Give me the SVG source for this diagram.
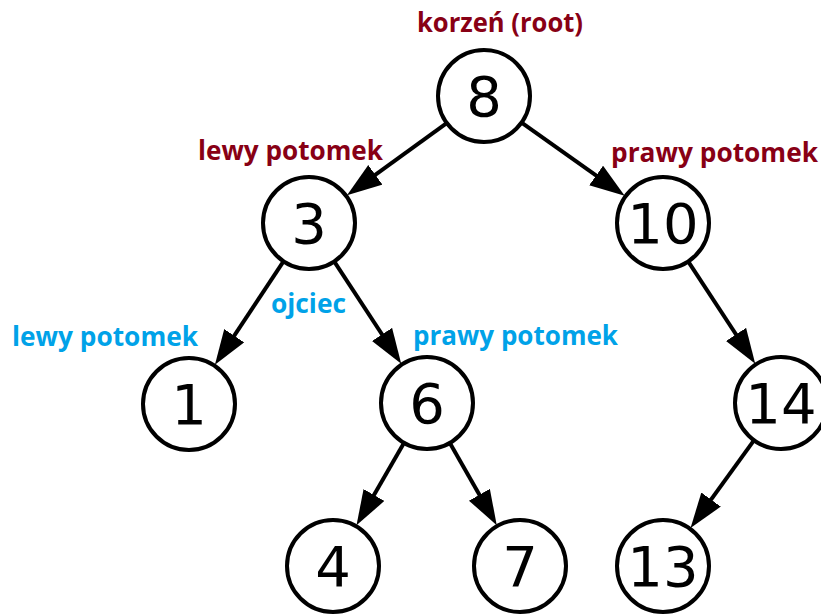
<svg xmlns="http://www.w3.org/2000/svg" width="821" height="614" viewBox="0 0 821 614">
<style>
.node circle{fill:#fff;stroke:#000;stroke-width:4}
.node text{font-family:"DejaVu Sans",sans-serif;font-size:56px;fill:#000;text-anchor:middle}
.edges path{fill:none;stroke:#000;stroke-width:4;marker-end:url(#arr)}
.lbl{font-family:"Open Sans","Liberation Sans",sans-serif;font-weight:bold;font-size:26px}
.red{fill:#880015}
.blue{fill:#00a2e8}
</style>
<defs>
<marker id="arr" markerUnits="userSpaceOnUse" markerWidth="38" markerHeight="26" refX="24" refY="12" orient="auto">
<path d="M0,0 L35,12 L0,24 z" fill="#000"/>
</marker>
</defs>
<rect width="821" height="614" fill="#fff"/>
<g class="edges">
<path d="M446,123.6 L355.9,188.9"/>
<path d="M522.3,123.2 L615.7,189.4"/>
<path d="M283,262.2 L221,355.7"/>
<path d="M334.8,262.3 L395.2,354.5"/>
<path d="M688.8,262.3 L749.2,354.5"/>
<path d="M403.5,443.7 L362,515.8"/>
<path d="M450.3,443.8 L491.3,515.6"/>
<path d="M753.4,441.1 L697,519"/>
</g>
<g id="n8" class="node"><circle cx="484" cy="96" r="46"/><text x="484" y="116">8</text></g>
<g id="n3" class="node"><circle cx="309" cy="223" r="46"/><text x="309" y="243">3</text></g>
<g id="n10" class="node"><circle cx="663" cy="223" r="46"/><text x="663" y="243">10</text></g>
<g id="n1" class="node"><circle cx="189" cy="404" r="46"/><text x="189" y="424">1</text></g>
<g id="n6" class="node"><circle cx="427" cy="403" r="46"/><text x="427" y="423">6</text></g>
<g id="n14" class="node"><circle cx="781" cy="403" r="46"/><text x="781" y="423">14</text></g>
<g id="n4" class="node"><circle cx="333" cy="566" r="46"/><text x="333" y="586">4</text></g>
<g id="n7" class="node"><circle cx="520" cy="566" r="46"/><text x="520" y="586">7</text></g>
<g id="n13" class="node"><circle cx="663" cy="566" r="46"/><text x="663" y="586">13</text></g>
<g id="labels">
<text class="lbl red" x="417" y="32" textLength="166" lengthAdjust="spacingAndGlyphs">korzeń (root)</text>
<text class="lbl red" x="198" y="160" textLength="185" lengthAdjust="spacingAndGlyphs">lewy potomek</text>
<text class="lbl red" x="611" y="162" textLength="207" lengthAdjust="spacingAndGlyphs">prawy potomek</text>
<text class="lbl blue" x="271" y="313" textLength="75" lengthAdjust="spacingAndGlyphs">ojciec</text>
<text class="lbl blue" x="12" y="346" textLength="186" lengthAdjust="spacingAndGlyphs">lewy potomek</text>
<text class="lbl blue" x="413" y="345" textLength="205" lengthAdjust="spacingAndGlyphs">prawy potomek</text>
</g>
</svg>
